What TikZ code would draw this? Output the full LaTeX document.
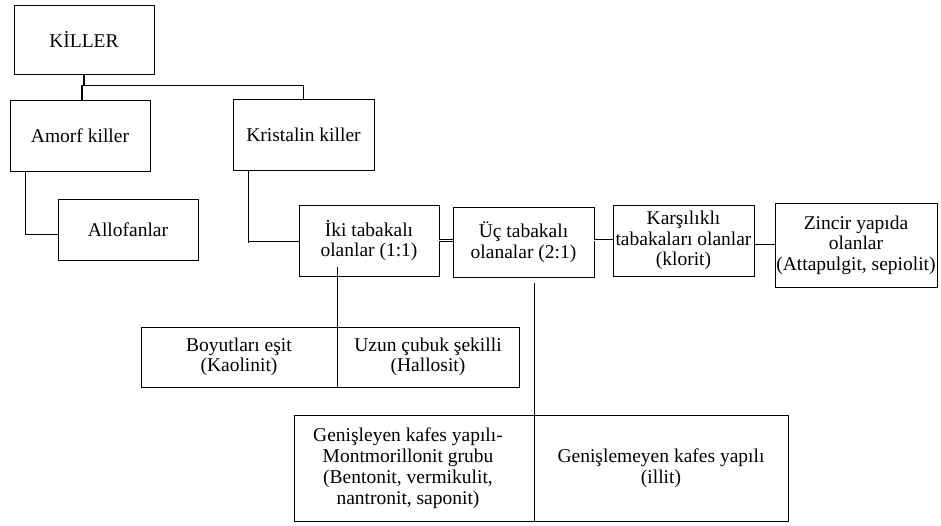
\documentclass[tikz,border=0pt]{standalone}
\usepackage{fontspec}
\setmainfont{Liberation Serif}
\usetikzlibrary{positioning}

\tikzset{
  kutu/.style={draw, line width=0.9pt, inner sep=0pt, align=center,
    font=\fontsize{19.5}{20.5}\selectfont},
  metin/.style={inner sep=0pt, align=center, font=\fontsize{19.5}{21}\selectfont},
  hat/.style={line width=0.9pt},
  govde/.style={line width=1.6pt},
  cift/.style={double, line width=0.7pt, double distance=0.9pt}
}

\begin{document}
\begin{tikzpicture}[x=1pt,y=-1pt]

    \useasboundingbox (0,0) rectangle (941,525);

    % ust kisim
    \node[kutu, minimum width=140, minimum height=69] (killer) at (84,39.5) {K\.ILLER};
    \node[kutu, minimum width=140, minimum height=71] (amorf) at (80,135.5) {Amorf killer};
    \node[kutu, minimum width=141, minimum height=71] (kristal) at (303.5,134.5) {Kristalin killer};
    \node[kutu, minimum width=140, minimum height=61] (allofan) at (128,229.5) {Allofanlar};

    % tabakali killer
    \node[kutu, minimum width=140, minimum height=71] (iki) at (369,240.5) {İki tabakalı\\olanlar (1:1)};
    \node[kutu, minimum width=141, minimum height=70] (uc) at (523.5,242) {Üç tabakalı\\olanalar (2:1)};
    \node[kutu, minimum width=141, minimum height=71] (karsi) at (683.5,240.5) {Karşılıklı\\tabakaları olanlar\\(klorit)};
    \node[kutu, minimum width=162, minimum height=84] (zincir) at (856,245) {Zincir yapıda\\olanlar\\(Attapulgit, sepiolit)};

    % alt tablolar
    \node[kutu, minimum width=196, minimum height=60] (boyut) at (239,357) {Boyutları eşit\\(Kaolinit)};
    \node[kutu, minimum width=182, minimum height=60] (uzun) at (428,357) {Uzun çubuk şekilli\\(Hallosit)};
    \node[kutu, minimum width=240, minimum height=106] (genis) at (414,468) {};
    \node[metin] (genistxt) at (408,468) {Genişleyen kafes yapılı-\\Montmorillonit grubu\\(Bentonit, vermikulit,\\nantronit, saponit)};
    \node[kutu, minimum width=254, minimum height=106] (genisme) at (661,468) {Genişlemeyen kafes yapılı\\(illit)};

    % baglantilar
    \draw[govde] (killer.south) -- ++(0,11) coordinate (ayrim);
    \draw[govde] ([xshift=2pt]amorf.north) |- (ayrim) -| (kristal.north);
    \draw[hat] ([xshift=-55pt]amorf.south) |- ([yshift=-4.5pt]allofan.west);
    \draw[hat] ([xshift=-55.5pt]kristal.south) |- ([yshift=-1.5pt]iki.west);
    \draw[cift] ([yshift=-1.5pt]iki.west) -- ++(-50,0);
    \draw[cift] (iki.east) -- (iki.east -| uc.west);
    \draw[cift] ([yshift=2pt]uc.east) -- ([yshift=2pt]uc.east -| karsi.west);
    \draw[hat] ([yshift=-3.5pt]karsi.east) -- ([yshift=-3.5pt]karsi.east -| zincir.west);
    \draw[hat] ([yshift=9pt]iki.south -| boyut.east) -- (boyut.north east);
    \draw[hat] ([yshift=-6pt]uc.south -| genis.east) -- (genis.north east);

\end{tikzpicture}
\end{document}
